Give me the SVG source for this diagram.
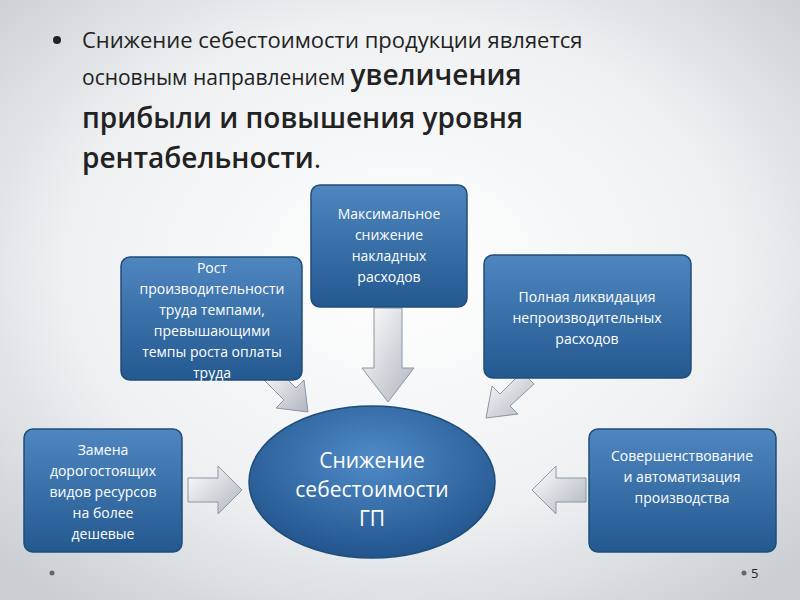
<svg xmlns="http://www.w3.org/2000/svg" width="800" height="600" viewBox="0 0 800 600">
<style>
.t{font-family:"Open Sans","DejaVu Sans",sans-serif;fill:#222}
.b{font-family:"Open Sans","DejaVu Sans",sans-serif;fill:#fff;font-size:14px;text-anchor:middle}
.c{font-size:21px}
.box{fill:url(#bg);stroke:#1f4d7a;stroke-width:1.5}
.arr{fill:url(#ag);stroke:#8a96a3;stroke-width:1}
</style>
<defs>
<radialGradient id="page" cx="0.5" cy="0.45" r="0.7"><stop offset="0" stop-color="#ffffff"/><stop offset="0.6" stop-color="#eef0f2"/><stop offset="1" stop-color="#c9ced3"/></radialGradient>
<linearGradient id="bg" x1="0" y1="0" x2="0" y2="1"><stop offset="0" stop-color="#4f86c0"/><stop offset="1" stop-color="#23598f"/></linearGradient>
<radialGradient id="eg" cx="0.5" cy="0.35" r="0.7"><stop offset="0" stop-color="#4f8bc8"/><stop offset="1" stop-color="#1f5088"/></radialGradient>
<linearGradient id="ag" x1="0" y1="0" x2="1" y2="1"><stop offset="0" stop-color="#ffffff"/><stop offset="1" stop-color="#aeb6bf"/></linearGradient>
</defs>
<rect width="800" height="600" fill="url(#page)"/>
<circle cx="57" cy="40" r="4" fill="#222"/>
<text class="t" font-size="22" x="82" y="48">Снижение себестоимости продукции является</text>
<text class="t" x="82" y="85"><tspan font-size="21">основным направлением </tspan><tspan font-size="28" font-weight="600">увеличения</tspan></text>
<text class="t" font-size="28" font-weight="600" x="82" y="128">прибыли и повышения уровня</text>
<text class="t" font-size="28" font-weight="600" x="82" y="168">рентабельности<tspan font-weight="normal">.</tspan></text>
<g id="connectors">
<polygon class="arr" points="374,308 402,308 402,368 414,368 388,402 362,368 374,368"/>
<polygon class="arr" points="274,366 296,388 304,380 308,412 276,408 284,400 262,378"/>
<polygon class="arr" points="522,372 500,394 492,386 486,418 518,414 510,406 534,384"/>
<polygon class="arr" points="188,478 218,478 218,466 242,490 218,514 218,502 188,502"/>
<polygon class="arr" points="586,478 556,478 556,466 532,490 556,514 556,502 586,502"/>
</g>
<g id="n-top"><rect class="box" x="311" y="185" width="156" height="122" rx="9"/>
<text class="b" x="389" y="219">Максимальное</text><text class="b" x="389" y="240">снижение</text><text class="b" x="389" y="261">накладных</text><text class="b" x="389" y="282">расходов</text></g>
<g id="n-lt"><rect class="box" x="121" y="257" width="181" height="123" rx="9"/>
<text class="b" x="212" y="273">Рост</text><text class="b" x="212" y="294">производительности</text><text class="b" x="212" y="315">труда темпами,</text><text class="b" x="212" y="336">превышающими</text><text class="b" x="212" y="357">темпы роста оплаты</text><text class="b" x="212" y="378">труда</text></g>
<g id="n-rt"><rect class="box" x="484" y="255" width="207" height="123" rx="9"/>
<text class="b" x="587" y="302">Полная ликвидация</text><text class="b" x="587" y="323">непроизводительных</text><text class="b" x="587" y="344">расходов</text></g>
<g id="n-lb"><rect class="box" x="24" y="429" width="158" height="123" rx="9"/>
<text class="b" x="103" y="455">Замена</text><text class="b" x="103" y="476">дорогостоящих</text><text class="b" x="103" y="497">видов ресурсов</text><text class="b" x="103" y="518">на более</text><text class="b" x="103" y="539">дешевые</text></g>
<g id="n-rb"><rect class="box" x="589" y="429" width="187" height="123" rx="9"/>
<text class="b" x="682" y="461">Совершенствование</text><text class="b" x="682" y="482">и автоматизация</text><text class="b" x="682" y="503">производства</text></g>
<g id="n-c"><ellipse cx="372" cy="482" rx="123" ry="76" fill="url(#eg)" stroke="#1f4d7a" stroke-width="1.5"/>
<text class="b c" x="372" y="468">Снижение</text><text class="b c" x="372" y="497">себестоимости</text><text class="b c" x="372" y="526">ГП</text></g>
<circle cx="52" cy="573" r="2.5" fill="#666"/>
<circle cx="744" cy="573" r="2.5" fill="#666"/>
<text class="t" font-size="13" x="751" y="578" fill="#555">5</text>
</svg>
